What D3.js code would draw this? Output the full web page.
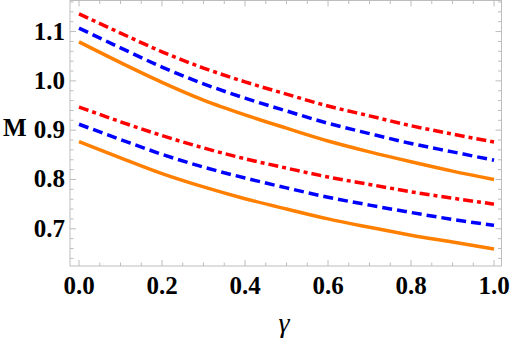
<!DOCTYPE html>
<html lang="en">
<head>
  <meta charset="UTF-8">
  <style type="text/css">
    body {margin:0; background:#fff;}
    .tick-label {font: bold 25px "Liberation Serif", serif; fill:#000;}
    .label {font: bold 25px "Liberation Serif", serif; fill:#000;}
    .xlabel {font: italic 28px "Liberation Serif", serif; fill:#000;}
  </style>
  <title>M vs gamma</title>
</head>
<body>
  <svg id="chart" width="512" height="341"></svg>

  <script src="https://d3js.org/d3.v7.min.js"></script>
  <script type="text/javascript">
    // gamma values along the x axis
    var gammaVals = [0, 0.1, 0.2, 0.3, 0.4, 0.5, 0.6, 0.7, 0.8, 0.9, 1.0];

    // upper group
    var redUpper    = [1.136, 1.097, 1.059, 1.026, 0.998, 0.973, 0.949, 0.929, 0.909, 0.892, 0.876];
    var blueUpper   = [1.107, 1.067, 1.028, 0.994, 0.965, 0.939, 0.914, 0.893, 0.873, 0.856, 0.839];
    var orangeUpper = [1.079, 1.037, 0.997, 0.961, 0.931, 0.904, 0.878, 0.856, 0.836, 0.817, 0.800];
    // lower group
    var redLower    = [0.947, 0.917, 0.889, 0.864, 0.842, 0.823, 0.805, 0.790, 0.775, 0.762, 0.750];
    var blueLower   = [0.912, 0.881, 0.851, 0.825, 0.803, 0.783, 0.764, 0.748, 0.733, 0.719, 0.707];
    var orangeLower = [0.877, 0.844, 0.812, 0.785, 0.761, 0.740, 0.720, 0.703, 0.687, 0.673, 0.659];

    var xTicks = [0, 0.2, 0.4, 0.6, 0.8, 1.0];
    var yTicks = [0.7, 0.8, 0.9, 1.0, 1.1];

    var series = [
      {vals: redUpper,    color: "#ff0000", dash: "10,4,4,4"},
      {vals: blueUpper,   color: "#0000ff", dash: "10,5"},
      {vals: orangeUpper, color: "#ff8000", dash: null},
      {vals: redLower,    color: "#ff0000", dash: "10,4,4,4"},
      {vals: blueLower,   color: "#0000ff", dash: "10,5"},
      {vals: orangeLower, color: "#ff8000", dash: null}
    ];

    var svg = d3.select("#chart");
    var pLeft = 70, pRight = 501.5, pTop = 0.5, pBottom = 266;

    var x = d3.scaleLinear().domain([-0.0217, 1.018]).range([pLeft, pRight]),
        y = d3.scaleLinear().domain([0.6245, 1.163]).range([pBottom, pTop]);

    var g = svg.append("g");

    // frame
    g.append("rect")
      .attr("x", pLeft).attr("y", pTop)
      .attr("width", pRight - pLeft).attr("height", pBottom - pTop)
      .attr("fill", "none").attr("stroke", "#bdbdbd").attr("stroke-width", 1);

    // ticks (inward, on all four sides)
    var xMinor = d3.range(0, 1.0001, 0.05);
    var yMinor = d3.range(0.64, 1.1601, 0.02);
    function isMajor(v, list) { return list.some(function(t){ return Math.abs(t - v) < 1e-6; }); }

    xMinor.forEach(function(v) {
      var len = isMajor(v, xTicks) ? 6 : 3.5;
      g.append("line").attr("x1", x(v)).attr("x2", x(v)).attr("y1", pBottom).attr("y2", pBottom - len)
        .attr("stroke", "#bdbdbd");
      g.append("line").attr("x1", x(v)).attr("x2", x(v)).attr("y1", pTop).attr("y2", pTop + len)
        .attr("stroke", "#bdbdbd");
    });
    yMinor.forEach(function(v) {
      var len = isMajor(v, yTicks) ? 6 : 3.5;
      g.append("line").attr("y1", y(v)).attr("y2", y(v)).attr("x1", pLeft).attr("x2", pLeft + len)
        .attr("stroke", "#bdbdbd");
      g.append("line").attr("y1", y(v)).attr("y2", y(v)).attr("x1", pRight).attr("x2", pRight - len)
        .attr("stroke", "#bdbdbd");
    });

    // tick labels
    g.selectAll(".xt").data(xTicks).enter().append("text")
      .attr("class", "tick-label")
      .attr("x", function(d){ return x(d); })
      .attr("y", 294)
      .attr("text-anchor", "middle")
      .text(function(d){ return d.toFixed(1); });

    g.selectAll(".yt").data(yTicks).enter().append("text")
      .attr("class", "tick-label")
      .attr("x", 65)
      .attr("y", function(d){ return y(d) + 8; })
      .attr("text-anchor", "end")
      .text(function(d){ return d.toFixed(1); });

    // axis labels
    g.append("text").attr("class", "label")
      .attr("x", 3).attr("y", 136).text("M");
    g.append("text").attr("class", "xlabel")
      .attr("x", 284).attr("y", 332).attr("text-anchor", "middle").text("γ");

    // curves
    var line = d3.line()
      .x(function(d, i){ return x(gammaVals[i]); })
      .y(function(d){ return y(d); })
      .curve(d3.curveMonotoneX);

    series.forEach(function(s) {
      g.append("path")
        .datum(s.vals)
        .attr("d", line)
        .attr("fill", "none")
        .attr("stroke", s.color)
        .attr("stroke-width", 3.5)
        .attr("stroke-dasharray", s.dash);
    });
  </script>
</body>
</html>
